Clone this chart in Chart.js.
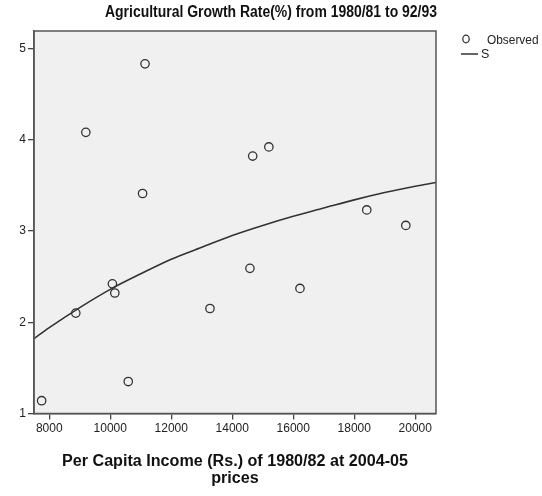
<!DOCTYPE html>
<html>
<head>
<meta charset="utf-8">
<script src="https://cdn.jsdelivr.net/npm/chart.js@4.4.1/dist/chart.umd.min.js"></script>
<style>
  html, body { margin: 0; padding: 0; background: #fff; }
  #wrap { width: 542px; height: 496px; }
</style>
</head>
<body>
<div id="wrap"><canvas id="c" width="542" height="496"></canvas></div>
<script>
// Observed state values: per capita income (Rs., 1980/82 at 2004-05 prices) vs growth rate (%)
const incomeObserved = [7750, 8870, 9200, 10070, 10150, 10590, 11060, 11140, 13270, 14580, 14670, 15200, 16220, 18410, 19690];
const growthObserved = [1.14, 2.10, 4.08, 2.42, 2.32, 1.35, 3.41, 4.83, 2.15, 2.59, 3.82, 3.92, 2.37, 3.23, 3.06];

// Fitted S curve, sampled along the income axis
const incomeFit = [7500, 8000, 9000, 10000, 11000, 12000, 13000, 14000, 15000, 16000, 17000, 18000, 19000, 20000, 20680];
const growthFit = [1.82, 1.94, 2.16, 2.36, 2.53, 2.69, 2.82, 2.95, 3.06, 3.16, 3.25, 3.34, 3.42, 3.49, 3.53];

// Axis ticks
const xTickValues = [8000, 10000, 12000, 14000, 16000, 18000, 20000];
const yTickValues = [1, 2, 3, 4, 5];

const chartTitle = 'Agricultural Growth Rate(%) from 1980/81 to 92/93';
const xTitleLines = ['Per Capita Income (Rs.) of 1980/82 at 2004-05', 'prices'];
const legendLabels = ['Observed', 'S'];

const FONT = '"Liberation Sans", Arial, sans-serif';
const INK = '#333333';

const observedPoints = incomeObserved.map((x, i) => ({ x, y: growthObserved[i] }));
const fitPoints = incomeFit.map((x, i) => ({ x, y: growthFit[i] }));

// Draw centred text squeezed or stretched horizontally to a given width
function fitText(ctx, text, cx, y, width) {
  const w = ctx.measureText(text).width;
  const k = width / w;
  ctx.save();
  ctx.translate(cx, y);
  ctx.scale(k, 1);
  ctx.textAlign = 'center';
  ctx.fillText(text, 0, 0);
  ctx.restore();
}

// Plot frame, background, titles and legend
const decor = {
  id: 'decor',
  beforeDraw(chart) {
    const { ctx, chartArea: a } = chart;
    ctx.save();
    ctx.fillStyle = '#f0f0f0';
    ctx.fillRect(a.left, a.top, a.right - a.left, a.bottom - a.top);
    ctx.restore();
  },
  afterDraw(chart) {
    const { ctx, chartArea: a } = chart;
    ctx.save();
    ctx.strokeStyle = '#555';
    ctx.lineWidth = 1.5;
    ctx.strokeRect(a.left, a.top, a.right - a.left, a.bottom - a.top);

    ctx.fillStyle = '#111';
    ctx.textBaseline = 'middle';
    ctx.font = 'bold 16px ' + FONT;
    fitText(ctx, chartTitle, 271, 13, 332);

    ctx.font = 'bold 16px ' + FONT;
    const cx = (a.left + a.right) / 2;
    fitText(ctx, xTitleLines[0], cx, 462, 346);
    const w2 = ctx.measureText(xTitleLines[1]).width * 346 / ctx.measureText(xTitleLines[0]).width;
    fitText(ctx, xTitleLines[1], cx, 479, w2);

    // legend
    ctx.font = '12.5px ' + FONT;
    ctx.textAlign = 'left';
    ctx.fillStyle = '#222';
    ctx.strokeStyle = INK;
    ctx.lineWidth = 1.3;
    ctx.beginPath();
    ctx.ellipse(466, 39, 3.2, 3.8, 0, 0, Math.PI * 2);
    ctx.stroke();
    ctx.save();
    ctx.translate(487, 41);
    ctx.scale(0.95, 1);
    ctx.fillText(legendLabels[0], 0, 0);
    ctx.restore();
    ctx.lineWidth = 1.5;
    ctx.beginPath();
    ctx.moveTo(461, 54);
    ctx.lineTo(478, 54);
    ctx.stroke();
    ctx.fillText(legendLabels[1], 481, 55);
    ctx.restore();
  }
};

new Chart(document.getElementById('c'), {
  type: 'scatter',
  data: {
    datasets: [
      {
        label: legendLabels[1],
        type: 'line',
        data: fitPoints,
        borderColor: INK,
        borderWidth: 1.6,
        pointRadius: 0,
        fill: false,
        cubicInterpolationMode: 'monotone',
        order: 2
      },
      {
        label: legendLabels[0],
        data: observedPoints,
        pointStyle: 'circle',
        pointRadius: 4.2,
        pointBorderWidth: 1.3,
        pointBorderColor: INK,
        pointBackgroundColor: 'rgba(0,0,0,0)',
        order: 1
      }
    ]
  },
  options: {
    responsive: false,
    animation: false,
    events: [],
    layout: { padding: { top: 31, right: 106, bottom: 52, left: 0 } },
    plugins: { legend: { display: false }, title: { display: false }, tooltip: { enabled: false } },
    scales: {
      x: {
        type: 'linear',
        min: 7500,
        max: 20680,
        afterBuildTicks(scale) { scale.ticks = xTickValues.map(v => ({ value: v })); },
        afterFit(scale) { scale.height = 30.5; },
        grid: { drawOnChartArea: false, drawTicks: true, tickLength: 6, color: '#444', lineWidth: 1.3 },
        border: { display: true, color: '#555', width: 1.5 },
        ticks: { color: '#222', font: { family: FONT, size: 12 }, padding: 2, maxRotation: 0, autoSkip: false, callback: v => String(v) }
      },
      y: {
        type: 'linear',
        min: 1,
        max: 5.19,
        afterBuildTicks(scale) { scale.ticks = yTickValues.map(v => ({ value: v })); },
        afterFit(scale) { scale.width = 34; },
        grid: { drawOnChartArea: false, drawTicks: true, tickLength: 6, color: '#444', lineWidth: 1.3 },
        border: { display: true, color: '#555', width: 1.5 },
        ticks: { color: '#222', font: { family: FONT, size: 12 }, padding: 2, callback: v => String(v) }
      }
    }
  },
  plugins: [decor]
});
</script>
</body>
</html>
